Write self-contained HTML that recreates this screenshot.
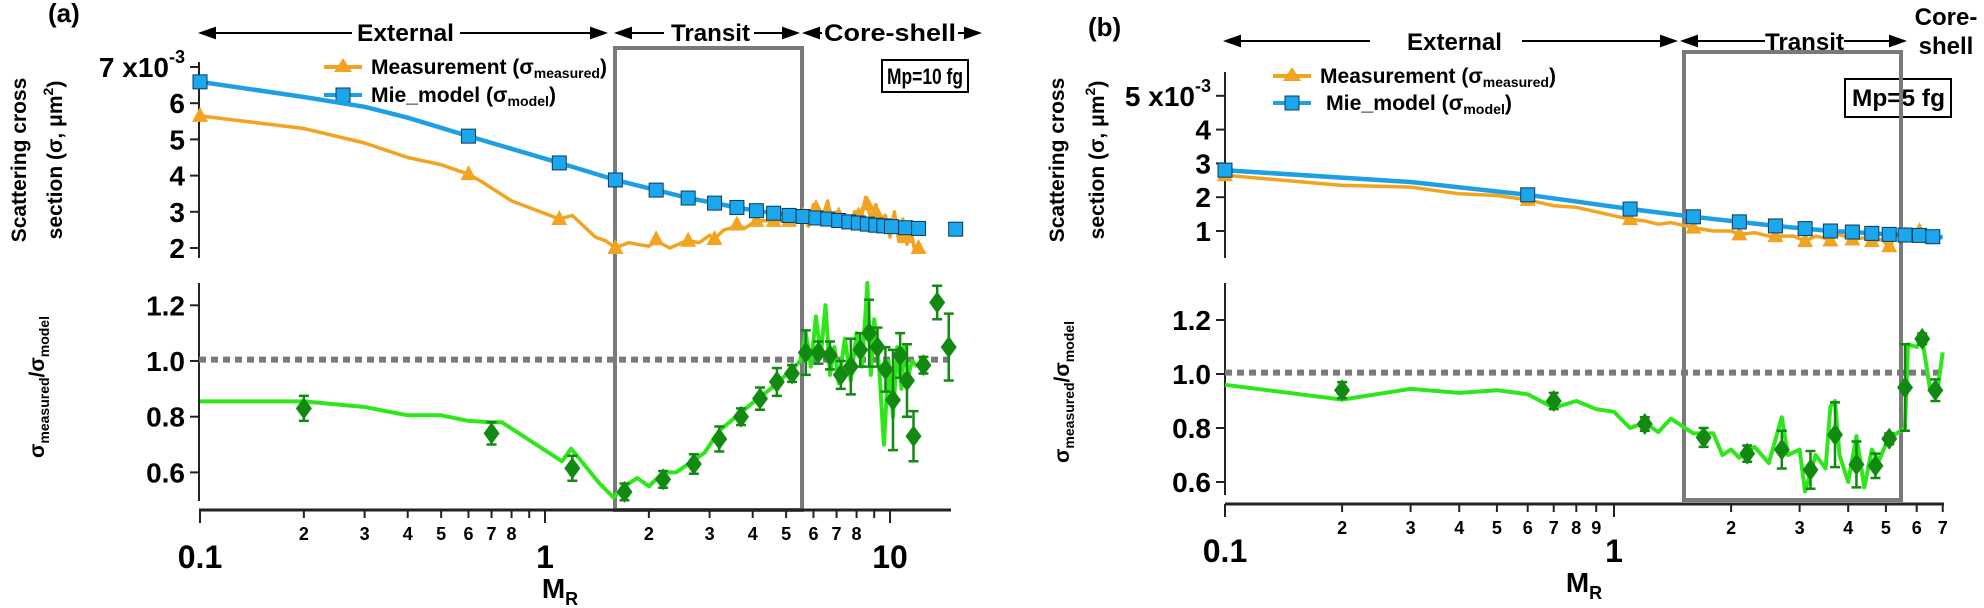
<!DOCTYPE html>
<html><head><meta charset="utf-8"><style>
html,body{margin:0;padding:0;background:#fff;}
svg{display:block;font-family:"Liberation Sans Narrow","Liberation Sans",sans-serif;font-weight:bold;}
.t{font-family:"Liberation Sans",sans-serif;font-weight:bold;}
</style></head><body>
<svg id="fig" width="1984" height="608" viewBox="0 0 1984 608" xmlns="http://www.w3.org/2000/svg">
<g id="static">
 <text x="48" y="22" font-size="26">(a)</text>
 <text x="1088" y="36" font-size="26">(b)</text>
 <g stroke="#000" stroke-width="2" fill="#000">
  <line x1="212" y1="33" x2="352" y2="33"/><polygon points="201,33 215,28 215,38"/>
  <line x1="460" y1="33" x2="594" y2="33"/><polygon points="605,33 591,28 591,38"/>
  <line x1="628" y1="33" x2="664" y2="33"/><polygon points="617,33 631,28 631,38"/>
  <line x1="754" y1="33" x2="786" y2="33"/><polygon points="797,33 783,28 783,38"/>
  <line x1="816" y1="33" x2="822" y2="33"/><polygon points="805,33 819,28 819,38"/>
  <line x1="958" y1="33" x2="968" y2="33"/><polygon points="979,33 965,28 965,38"/>
 </g>
 <text x="357" y="41" font-size="24" textLength="97" lengthAdjust="spacingAndGlyphs">External</text>
 <text x="671" y="41" font-size="24" textLength="79" lengthAdjust="spacingAndGlyphs">Transit</text>
 <text x="824" y="41" font-size="24" textLength="132" lengthAdjust="spacingAndGlyphs">Core-shell</text>
 <g stroke="#000" stroke-width="2" fill="#000">
  <line x1="1237" y1="41" x2="1370" y2="41"/><polygon points="1226,41 1240,36 1240,46"/>
  <line x1="1522" y1="41" x2="1664" y2="41"/><polygon points="1675,41 1661,36 1661,46"/>
  <line x1="1694" y1="41" x2="1765" y2="41"/><polygon points="1683,41 1697,36 1697,46"/>
  <line x1="1844" y1="41" x2="1893" y2="41"/><polygon points="1904,41 1890,36 1890,46"/>
 </g>
 <text x="1407" y="50" font-size="24" textLength="95" lengthAdjust="spacingAndGlyphs">External</text>
 <text x="1765" y="50" font-size="24" textLength="79" lengthAdjust="spacingAndGlyphs">Transit</text>
 <text x="1946" y="25" font-size="24" text-anchor="middle">Core-</text>
 <text x="1946" y="54" font-size="24" text-anchor="middle">shell</text>
 <g class="t" font-size="21">
  <text transform="translate(26,160) rotate(-90)" text-anchor="middle">Scattering cross</text>
  <text transform="translate(62,160) rotate(-90)" text-anchor="middle">section (σ, μm<tspan dy="-9" font-size="14">2</tspan><tspan dy="9">)</tspan></text>
 </g>
 <g class="t" font-size="21">
  <text transform="translate(1064,160) rotate(-90)" text-anchor="middle">Scattering cross</text>
  <text transform="translate(1104,160) rotate(-90)" text-anchor="middle">section (σ, μm<tspan dy="-9" font-size="14">2</tspan><tspan dy="9">)</tspan></text>
 </g>
 <text class="t" transform="translate(44,387) rotate(-90)" text-anchor="middle" font-size="21">σ<tspan font-size="14" dy="5">measured</tspan><tspan dy="-5">/σ</tspan><tspan font-size="14" dy="5">model</tspan></text>
 <text class="t" transform="translate(1069,392) rotate(-90)" text-anchor="middle" font-size="21">σ<tspan font-size="14" dy="5">measured</tspan><tspan dy="-5">/σ</tspan><tspan font-size="14" dy="5">model</tspan></text>
 <text x="560" y="598" font-size="28" text-anchor="middle">M<tspan font-size="18" dy="7">R</tspan></text>
 <text x="1584" y="592" font-size="28" text-anchor="middle">M<tspan font-size="18" dy="7">R</tspan></text>
 <rect x="882" y="60" width="86" height="32" fill="#fff" stroke="#000" stroke-width="2"/>
 <text x="887" y="84" font-size="22" textLength="76" lengthAdjust="spacingAndGlyphs">Mp=10 fg</text>
 <rect x="1845" y="79" width="106" height="38" fill="#fff" stroke="#000" stroke-width="2"/>
 <text x="1852" y="106" font-size="24" textLength="93" lengthAdjust="spacingAndGlyphs">Mp=5 fg</text>
 <g>
  <line x1="324" y1="67" x2="362" y2="67" stroke="#f2a421" stroke-width="4"/>
  <polygon points="343,58 352,72 334,72" fill="#f2a421"/>
  <text x="371" y="74" font-size="21" textLength="236" lengthAdjust="spacingAndGlyphs">Measurement (σ<tspan font-size="14" dy="4">measured</tspan><tspan dy="-4">)</tspan></text>
  <line x1="324" y1="95" x2="362" y2="95" stroke="#1da0e3" stroke-width="4"/>
  <rect x="336" y="88" width="14" height="14" fill="#1aa7ec" stroke="#0a3a60" stroke-width="1"/>
  <text x="371" y="102" font-size="21" textLength="185" lengthAdjust="spacingAndGlyphs">Mie_model (σ<tspan font-size="14" dy="4">model</tspan><tspan dy="-4">)</tspan></text>
 </g>
 <g>
  <line x1="1273" y1="76" x2="1311" y2="76" stroke="#f2a421" stroke-width="4"/>
  <polygon points="1292,67 1301,81 1283,81" fill="#f2a421"/>
  <text x="1320" y="83" font-size="21" textLength="236" lengthAdjust="spacingAndGlyphs">Measurement (σ<tspan font-size="14" dy="4">measured</tspan><tspan dy="-4">)</tspan></text>
  <line x1="1273" y1="103" x2="1311" y2="103" stroke="#1da0e3" stroke-width="4"/>
  <rect x="1285" y="96" width="14" height="14" fill="#1aa7ec" stroke="#0a3a60" stroke-width="1"/>
  <text x="1326" y="110" font-size="21" textLength="186" lengthAdjust="spacingAndGlyphs">Mie_model (σ<tspan font-size="14" dy="4">model</tspan><tspan dy="-4">)</tspan></text>
 </g>
</g>
<g id="dyn"></g>
</svg>
<script>
// ---------- Panel (a) data ----------
const aModelX = [0.1,0.2,0.3,0.4,0.6,1.1,1.6,2.1,2.6,3.1,3.6,4.1,4.6,5.1,5.6,6.1,6.6,7.1,7.6,8.1,8.6,9.1,9.6,10.1,11.1,12.1];
const aModelY = [6.59,6.17,5.9,5.6,5.09,4.35,3.88,3.6,3.38,3.24,3.12,3.03,2.96,2.9,2.87,2.83,2.8,2.76,2.72,2.69,2.66,2.63,2.61,2.59,2.56,2.54];
const aModelMkX = [0.1,0.6,1.1,1.6,2.1,2.6,3.1,3.6,4.1,4.6,5.1,5.6,6.1,6.6,7.1,7.6,8.1,8.6,9.1,9.6,10.1,11.1,12.1,15.5];
const aModelMkY = [6.59,5.09,4.35,3.88,3.6,3.38,3.24,3.12,3.03,2.96,2.9,2.87,2.83,2.8,2.76,2.72,2.69,2.66,2.63,2.61,2.59,2.56,2.54,2.52];
const aMeasX = [0.1,0.2,0.3,0.4,0.5,0.6,0.65,0.8,1.1,1.2,1.4,1.5,1.6,1.75,1.85,2.0,2.1,2.3,2.5,2.6,2.8,3.0,3.1,3.3,3.6,3.8,4.1,4.6,5.1,5.6,5.8,6.0,6.2,6.4,6.6,6.8,7.0,7.3,7.6,7.9,8.2,8.5,8.8,9.1,9.4,9.7,10.0,10.3,10.6,10.9,11.2,11.5,11.8,12.2];
const aMeasY = [5.65,5.3,4.9,4.5,4.3,4.04,3.85,3.3,2.8,2.9,2.3,2.2,2.0,2.15,2.1,2.05,2.2,2.0,2.15,2.2,2.15,2.35,2.25,2.5,2.6,2.55,2.75,2.75,2.75,2.9,2.6,3.2,2.7,2.9,3.3,2.6,3.0,2.8,2.6,3.0,2.7,3.4,2.8,3.2,2.6,2.9,2.3,3.0,2.2,2.8,2.1,2.5,1.9,2.0];
const aMeasMkX = [0.1,0.6,1.1,1.6,2.1,2.6,3.1,3.6,4.1,4.6,5.1,5.6,6.1,6.6,7.1,7.6,8.1,8.6,9.1,9.6,10.1,11.1,12.1];
const aMeasMkY = [5.65,4.04,2.8,2.0,2.24,2.2,2.25,2.65,2.75,2.75,2.75,2.9,3.1,3.0,2.9,2.7,2.9,3.2,3.0,2.7,2.6,2.3,2.0];
const aRatioX = [0.1,0.2,0.3,0.4,0.5,0.6,0.7,0.75,1.12,1.19,1.44,1.58,1.7,1.85,2.0,2.2,2.4,2.6,2.9,3.2,3.5,4.0,4.5,5.0,5.5,5.7,5.9,6.1,6.3,6.5,6.7,6.9,7.1,7.4,7.7,8.0,8.3,8.6,8.8,9.0,9.3,9.6,9.9,10.2,10.5,10.8,11.0,11.3,11.6,12.0];
const aRatioY = [0.855,0.855,0.835,0.805,0.805,0.785,0.78,0.78,0.64,0.685,0.56,0.51,0.55,0.58,0.55,0.6,0.6,0.63,0.67,0.75,0.79,0.85,0.9,0.95,1.0,1.1,0.98,1.16,1.02,1.2,0.95,1.05,0.92,1.08,0.93,1.1,0.98,1.28,0.95,1.15,0.98,0.7,1.0,0.8,1.05,0.9,1.05,0.95,1.0,0.98];
const aDiaX = [0.2,0.7,1.2,1.7,2.2,2.7,3.2,3.7,4.2,4.7,5.2,5.7,6.2,6.7,7.2,7.7,8.2,8.7,9.2,9.7,10.2,10.7,11.2,11.7,12.5,13.7,14.8];
const aDiaY = [0.83,0.74,0.615,0.53,0.575,0.63,0.72,0.8,0.865,0.925,0.955,1.03,1.03,1.02,0.95,0.98,1.04,1.1,1.05,0.97,0.86,1.02,0.93,0.73,0.985,1.21,1.05];
const aDiaErr = [0.045,0.04,0.045,0.03,0.03,0.035,0.045,0.03,0.04,0.05,0.03,0.08,0.04,0.05,0.05,0.1,0.06,0.12,0.07,0.08,0.18,0.08,0.13,0.09,0.03,0.06,0.12];
// ---------- Panel (b) data ----------
const bModelX = [0.1,0.3,0.6,1.1,1.6,2.1,2.6,3.1,3.6,4.1,4.6,5.1,5.6,6.1,6.6,7.0];
const bModelY = [2.8,2.45,2.07,1.65,1.42,1.27,1.15,1.07,1.0,0.97,0.93,0.9,0.88,0.87,0.83,0.82];
const bModelMkX = [0.1,0.6,1.1,1.6,2.1,2.6,3.1,3.6,4.1,4.6,5.1,5.6,6.1,6.6];
const bModelMkY = [2.8,2.07,1.65,1.42,1.27,1.15,1.07,1.0,0.97,0.93,0.9,0.88,0.87,0.83];
const bMeasX = [0.1,0.2,0.3,0.4,0.5,0.6,0.7,0.8,1.0,1.1,1.2,1.3,1.4,1.6,1.8,2.0,2.1,2.3,2.5,2.6,2.9,3.1,3.3,3.6,3.8,4.1,4.4,4.6,4.9,5.1,5.3,5.8,6.1,6.5,7.0];
const bMeasY = [2.65,2.35,2.3,2.1,2.05,1.92,1.75,1.7,1.45,1.35,1.3,1.2,1.25,1.1,1.0,1.0,0.9,0.95,0.85,0.85,0.85,0.7,0.85,0.75,0.9,0.75,0.8,0.7,0.75,0.5,0.9,0.85,1.0,0.85,0.8];
const bMeasMkX = [0.1,0.6,1.1,1.6,2.1,2.6,3.1,3.6,4.1,4.6,5.1,5.6,6.1];
const bMeasMkY = [2.65,1.92,1.35,1.1,0.9,0.85,0.7,0.72,0.75,0.7,0.55,0.88,1.0];
const bRatioX = [0.1,0.2,0.3,0.4,0.5,0.6,0.7,0.8,0.9,1.0,1.1,1.2,1.3,1.4,1.6,1.8,1.9,2.0,2.1,2.3,2.5,2.7,2.8,3.0,3.1,3.3,3.5,3.6,3.7,3.8,4.0,4.2,4.4,4.6,4.8,5.0,5.2,5.6,5.7,6.0,6.2,6.5,6.8,7.0];
const bRatioY = [0.96,0.905,0.945,0.93,0.94,0.925,0.875,0.9,0.87,0.86,0.8,0.82,0.785,0.835,0.78,0.78,0.7,0.72,0.69,0.73,0.67,0.84,0.7,0.72,0.565,0.7,0.65,0.88,0.9,0.7,0.6,0.77,0.58,0.72,0.68,0.74,0.77,0.8,1.11,1.1,1.13,0.94,0.95,1.08];
const bDiaX = [0.2,0.7,1.2,1.7,2.2,2.7,3.2,3.7,4.2,4.7,5.1,5.6,6.2,6.7];
const bDiaY = [0.94,0.9,0.815,0.765,0.705,0.72,0.645,0.775,0.665,0.66,0.76,0.95,1.13,0.94];
const bDiaErr = [0.03,0.03,0.025,0.035,0.03,0.07,0.07,0.12,0.085,0.045,0.02,0.16,0.02,0.04];
// ticks
const topTicksA = [2,3,4,5,6,7];
const topTicksB = [1,2,3,4,5];
const ratioTicks = [0.6,0.8,1.0,1.2];
const minorLabelsA = [2,3,4,5,6,7,8,20,30,40,50,60,70,80];
const minorLabelsB = [2,3,4,5,6,7,8,9,20,30,40,50,60,70];

const NS = "http://www.w3.org/2000/svg";
const dyn = document.getElementById('dyn');
function mk(tag, attrs, parent){const e=document.createElementNS(NS,tag);for(const k in attrs)e.setAttribute(k,attrs[k]);(parent||dyn).appendChild(e);return e;}
const L10 = Math.log10;
const xA = v => 200 + 345*L10(v/0.1);
const xB = v => 1225 + 389*L10(v/0.1);
const yAt = v => 248 - (v-2)*36.2;
const yAb = v => 361 - (v-1)*278.5;
const yBt = v => 231 - (v-1)*33.8;
const yBb = v => 374 - (v-1)*270;
const ORANGE="#f2a421", BLUE="#1da0e3", GREEN="#2ee61a", DKG="#128a12", GRAY="#7a7a7a";

function pts(xs, ys, fx, fy){return xs.map((x,i)=>fx(x).toFixed(1)+","+fy(ys[i]).toFixed(1)).join(" ");}

function panel(p){
  const box = mk('rect',{x:p.box[0],y:p.box[1],width:p.box[2]-p.box[0],height:p.box[3]-p.box[1],fill:'none',stroke:GRAY,'stroke-width':4});
  
  
  const g = mk('g',{stroke:'#222','stroke-width':2});
  
  
  mk('line',{x1:p.x0,y1:p.topAx[0],x2:p.x0,y2:p.topAx[1]},g);
  mk('line',{x1:p.x0,y1:p.botAx[0],x2:p.x0,y2:p.botAx[1]},g);
  mk('line',{x1:p.x0,y1:p.xAxY,x2:p.xEnd,y2:p.xAxY,'stroke-width':3},g);
  p.topTicks.forEach(v=>{
    mk('line',{x1:p.x0-9,y1:p.yt(v),x2:p.x0,y2:p.yt(v)},g);
    const t=mk('text',{x:p.x0-14,y:p.yt(v)+10,'font-size':28,'text-anchor':'end',stroke:'none',fill:'#000'});
    if(v===p.topTicks[p.topTicks.length-1]){
      t.appendChild(document.createTextNode(v+' x10'));
      const s=mk('tspan',{dy:-14,'font-size':18},t); s.textContent='-3';
    } else t.textContent=String(v);
    
    
  });
  ratioTicks.forEach(v=>{
    mk('line',{x1:p.x0-9,y1:p.yb(v),x2:p.x0,y2:p.yb(v)},g);
    const t=mk('text',{x:p.x0-14,y:p.yb(v)+10,'font-size':28,'text-anchor':'end',stroke:'none',fill:'#000'});
    t.textContent=v.toFixed(1);
    
    
  });
  [0.1,1,10].forEach(v=>{
    if(p.fx(v)>p.xEnd+1) return;
    mk('line',{x1:p.fx(v),y1:p.xAxY,x2:p.fx(v),y2:p.xAxY+13},g);
    const t=mk('text',{x:p.fx(v),y:p.xAxY+58,'font-size':32,'text-anchor':'middle',stroke:'none',fill:'#000'});
    t.textContent=String(v);
    
    
  });
  [0.1,1,10].forEach(d=>{for(let k=2;k<=9;k++){const v=d*k;const xx=p.fx(v);if(xx>p.xEnd+1)continue;
    mk('line',{x1:xx,y1:p.xAxY,x2:xx,y2:p.xAxY+8},g);
    if(p.minor.includes(k*(d===0.1?1:10)) && d<10){
      const t=mk('text',{x:xx,y:p.xAxY+30,'font-size':18,'text-anchor':'middle',stroke:'none',fill:'#000'});
      t.textContent=String(k);
      
      
    }}});
  const dl=mk('line',{x1:p.x0,y1:p.yb(1.005),x2:p.xEnd,y2:p.yb(1.005),stroke:GRAY,'stroke-width':6,'stroke-dasharray':'7,5'});
  
  
  const lm=mk('polyline',{points:pts(p.measX,p.measY,p.fx,p.yt),fill:'none',stroke:ORANGE,'stroke-width':3.5,'stroke-linejoin':'round'});
  
  
  const lmd=mk('polyline',{points:pts(p.modelX,p.modelY,p.fx,p.yt),fill:'none',stroke:BLUE,'stroke-width':4.5,'stroke-linejoin':'round'});
  
  
  p.measMkX.forEach((x,i)=>{const cx=p.fx(x),cy=p.yt(p.measMkY[i]);
    const tr=mk('polygon',{points:`${cx},${cy-9} ${cx+8},${cy+6} ${cx-8},${cy+6}`,fill:ORANGE});
    
    });
  p.modelMkX.forEach((x,i)=>{const cx=p.fx(x),cy=p.yt(p.modelMkY[i]);
    const r=mk('rect',{x:cx-7,y:cy-7,width:14,height:14,fill:'#1aa7ec',stroke:'#0a3a60','stroke-width':1});
    
    });
  const gr=mk('polyline',{points:pts(p.ratioX,p.ratioY,p.fx,p.yb),fill:'none',stroke:GREEN,'stroke-width':4,'stroke-linejoin':'round'});
  
  
  p.diaX.forEach((x,i)=>{const cx=p.fx(x),cy=p.yb(p.diaY[i]),e=p.diaErr[i]*p.ys;
    const eb=mk('path',{d:`M${cx},${cy-e}V${cy+e}M${cx-5},${cy-e}H${cx+5}M${cx-5},${cy+e}H${cx+5}`,stroke:DKG,'stroke-width':2.5,fill:'none'});
    
    
    const d=mk('polygon',{points:`${cx},${cy-11} ${cx+8},${cy} ${cx},${cy+11} ${cx-8},${cy}`,fill:DKG});
    
    });
}
panel({id:'a',fx:xA,yt:yAt,yb:yAb,ys:278.5,x0:199,xEnd:951,xAxY:510,topAx:[62,258],botAx:[283,501],box:[615,48,802,510],
  topTicks:topTicksA,minor:minorLabelsA,measX:aMeasX,measY:aMeasY,modelX:aModelX,modelY:aModelY,measMkX:aMeasMkX,measMkY:aMeasMkY,
  modelMkX:aModelMkX,modelMkY:aModelMkY,ratioX:aRatioX,ratioY:aRatioY,diaX:aDiaX,diaY:aDiaY,diaErr:aDiaErr});
panel({id:'b',fx:xB,yt:yBt,yb:yBb,ys:270,x0:1225,xEnd:1944,xAxY:504,topAx:[72,258],botAx:[283,495],box:[1684,52,1901,500],
  topTicks:topTicksB,minor:minorLabelsB,measX:bMeasX,measY:bMeasY,modelX:bModelX,modelY:bModelY,measMkX:bMeasMkX,measMkY:bMeasMkY,
  modelMkX:bModelMkX,modelMkY:bModelMkY,ratioX:bRatioX,ratioY:bRatioY,diaX:bDiaX,diaY:bDiaY,diaErr:bDiaErr});
</script>
</body></html>
